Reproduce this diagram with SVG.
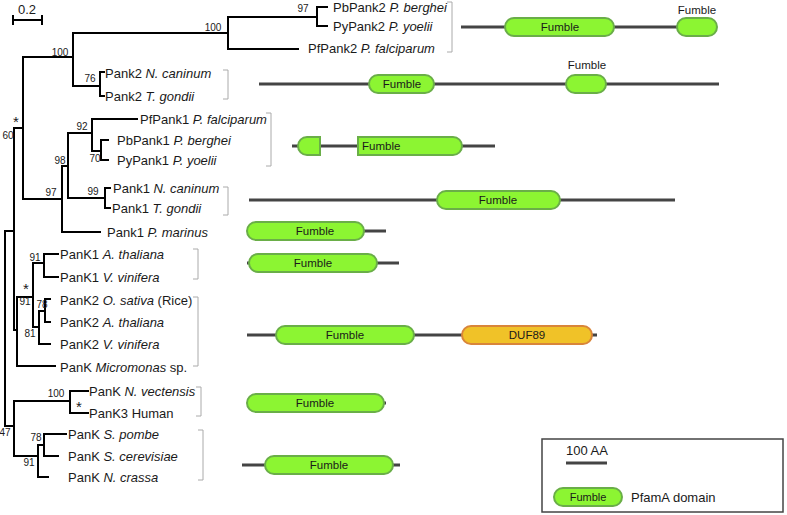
<svg xmlns="http://www.w3.org/2000/svg" width="787" height="515" viewBox="0 0 787 515">
<style>
.t{font-family:"Liberation Sans",Arial,sans-serif;font-size:13px;fill:#1a1a1a}
.i{font-style:italic}
.b{font-family:"Liberation Sans",Arial,sans-serif;font-size:10px;fill:#1a1a1a;text-anchor:middle}
.s{font-family:"Liberation Sans",Arial,sans-serif;font-size:15px;fill:#1a1a1a;text-anchor:middle}
.tree{fill:none;stroke:#000;stroke-width:2;stroke-linecap:square}
.br{fill:none;stroke:#aaa;stroke-width:1}
.ln{stroke:#444;stroke-width:3}
.fum{fill:#8cf532;stroke:#6aae48;stroke-width:2}
.duf{fill:#f0c228;stroke:#d9853a;stroke-width:2}
.d{font-family:"Liberation Sans",Arial,sans-serif;font-size:11.5px;fill:#1a1a1a;text-anchor:middle}
.ds{text-anchor:start}
</style>
<g id="scale">
<path class="tree" d="M13,20H42M13,16V24M42,16V24"/>
<text class="t" x="27" y="14" text-anchor="middle">0.2</text>
</g>
<g id="connectors">
<path class="tree" d="M5,231V426M5,231H14M5,426H14
M14,128V330M14,128H23M14,330H17
M23,57V199M23,57H73M23,199H62
M73,33V86M73,33H228M73,86H100
M228,17V49M228,17H317M228,49H298
M317,7V26M317,7H327M317,26H327
M100,72V96M100,72H104M100,96H104
M62,166V232M62,166H68M62,232H100
M68,133V198M68,133H92M68,198H105
M92,119V151M92,119H137M92,151H101
M101,140V160M101,140H108M101,160H108
M105,188V208M105,188H110M105,208H110
M17,297V366M17,297H33M17,366H55
M33,263V327M33,263H44M33,327H39
M44,254V277M44,254H58M44,277H58
M39,311V344M39,311H45M39,344H50
M45,299V322M45,299H50M45,322H50
M14,401V456M14,401H70M14,456H38
M70,391V413M70,391H88M70,413H88
M38,445V477M38,445H44M38,477H48
M44,434V456M44,434H66M44,456H58"/>
</g>
<g id="bootstrap">
<text class="b" x="213" y="31">100</text>
<text class="b" x="303" y="12">97</text>
<text class="b" x="60" y="56">100</text>
<text class="b" x="90" y="82">76</text>
<text class="s" x="16" y="127">*</text>
<text class="b" x="8" y="139">60</text>
<text class="b" x="82" y="130">92</text>
<text class="b" x="95" y="162">70</text>
<text class="b" x="60" y="164">98</text>
<text class="b" x="51" y="196">97</text>
<text class="b" x="93" y="195">99</text>
<text class="b" x="35" y="261">91</text>
<text class="s" x="26" y="294">*</text>
<text class="b" x="25" y="305">91</text>
<text class="b" x="42" y="308">78</text>
<text class="b" x="30" y="337">81</text>
<text class="b" x="56" y="397">100</text>
<text class="s" x="79" y="412">*</text>
<text class="b" x="5" y="436">47</text>
<text class="b" x="36" y="441">78</text>
<text class="b" x="29" y="466">91</text>
</g>
<g id="labels">
<text class="t" x="333" y="11.5">PbPank2 <tspan class="i">P. berghei</tspan></text>
<text class="t" x="333" y="30.5">PyPank2 <tspan class="i">P. yoelii</tspan></text>
<text class="t" x="308" y="52.5">PfPank2 <tspan class="i">P. falciparum</tspan></text>
<text class="t" x="105" y="77.5">Pank2 <tspan class="i">N. caninum</tspan></text>
<text class="t" x="105" y="100.5">Pank2 <tspan class="i">T. gondii</tspan></text>
<text class="t" x="140" y="123.5">PfPank1 <tspan class="i">P. falciparum</tspan></text>
<text class="t" x="117" y="144.5">PbPank1 <tspan class="i">P. berghei</tspan></text>
<text class="t" x="117" y="164.5">PyPank1 <tspan class="i">P. yoelii</tspan></text>
<text class="t" x="113" y="192.5">Pank1 <tspan class="i">N. caninum</tspan></text>
<text class="t" x="112" y="212.5">Pank1 <tspan class="i">T. gondii</tspan></text>
<text class="t" x="107" y="236.5">Pank1 <tspan class="i">P. marinus</tspan></text>
<text class="t" x="60" y="258.5">PanK1 <tspan class="i">A. thaliana</tspan></text>
<text class="t" x="60" y="281.5">PanK1 <tspan class="i">V. vinifera</tspan></text>
<text class="t" x="60" y="304.5">PanK2 <tspan class="i">O. sativa</tspan> (Rice)</text>
<text class="t" x="60" y="326.5">PanK2 <tspan class="i">A. thaliana</tspan></text>
<text class="t" x="60" y="348.5">PanK2 <tspan class="i">V. vinifera</tspan></text>
<text class="t" x="60" y="371.5">PanK <tspan class="i">Micromonas</tspan> sp.</text>
<text class="t" x="89" y="395.5">PanK <tspan class="i">N. vectensis</tspan></text>
<text class="t" x="89" y="417.5">PanK3 Human</text>
<text class="t" x="68" y="438.5">PanK <tspan class="i">S. pombe</tspan></text>
<text class="t" x="68" y="460.5">PanK <tspan class="i">S. cerevisiae</tspan></text>
<text class="t" x="68" y="481.5">PanK <tspan class="i">N. crassa</tspan></text>
</g>
<g id="brackets">
<path class="br" d="M447,2H452V52H447"/>
<path class="br" d="M223,70H228V99H223"/>
<path class="br" d="M266,113H271V166H266"/>
<path class="br" d="M223,187H228V215H223"/>
<path class="br" d="M193,249H198V279H193"/>
<path class="br" d="M193,297H198V366H193"/>
<path class="br" d="M196,387H201V416H196"/>
<path class="br" d="M198,430H203V480H198"/>
</g>
<g id="arch1">
<line class="ln" x1="461" y1="27" x2="717" y2="27"/>
<rect class="fum" x="505" y="18" width="109" height="18" rx="9"/>
<text class="d" x="560" y="31">Fumble</text>
<rect class="fum" x="677" y="18" width="40" height="18" rx="9"/>
<text class="d" x="697" y="14">Fumble</text>
</g>
<g id="arch2">
<line class="ln" x1="259" y1="84" x2="719" y2="84"/>
<rect class="fum" x="369" y="75" width="65" height="18" rx="9"/>
<text class="d" x="402" y="88">Fumble</text>
<rect class="fum" x="566" y="75" width="40" height="18" rx="9"/>
<text class="d" x="587" y="69">Fumble</text>
</g>
<g id="arch3">
<line class="ln" x1="292" y1="146" x2="495" y2="146"/>
<path class="fum" d="M320,137H307A9,9 0 0 0 307,155H320Z"/>
<path class="fum" d="M358,137H453A9,9 0 0 1 453,155H358Z"/>
<text class="d ds" x="362" y="150">Fumble</text>
</g>
<g id="arch4">
<line class="ln" x1="249" y1="200" x2="675" y2="200"/>
<rect class="fum" x="437" y="191" width="123" height="18" rx="9"/>
<text class="d" x="498" y="204">Fumble</text>
</g>
<g id="arch5">
<line class="ln" x1="250" y1="231" x2="386" y2="231"/>
<rect class="fum" x="247" y="222" width="117" height="18" rx="9"/>
<text class="d" x="315" y="235">Fumble</text>
</g>
<g id="arch6">
<line class="ln" x1="247" y1="263" x2="399" y2="263"/>
<rect class="fum" x="249" y="254" width="128" height="18" rx="9"/>
<text class="d" x="313" y="267">Fumble</text>
</g>
<g id="arch7">
<line class="ln" x1="247" y1="335" x2="597" y2="335"/>
<rect class="fum" x="276" y="326" width="138" height="18" rx="9"/>
<text class="d" x="345" y="339">Fumble</text>
<rect class="duf" x="462" y="326" width="130" height="18" rx="9"/>
<text class="d" x="527" y="339">DUF89</text>
</g>
<g id="arch8">
<line class="ln" x1="250" y1="403" x2="386" y2="403"/>
<rect class="fum" x="247" y="394" width="137" height="18" rx="9"/>
<text class="d" x="315" y="407">Fumble</text>
</g>
<g id="arch9">
<line class="ln" x1="242" y1="465" x2="400" y2="465"/>
<rect class="fum" x="265" y="456" width="128" height="18" rx="9"/>
<text class="d" x="329" y="469">Fumble</text>
</g>
<g id="legend">
<rect x="542" y="439" width="241" height="73" fill="none" stroke="#444" stroke-width="1.5"/>
<text class="t" x="566" y="455">100 AA</text>
<line class="ln" x1="566" y1="463" x2="607" y2="463"/>
<rect class="fum" x="554" y="488" width="68" height="18" rx="9"/>
<text class="d" x="588" y="501" style="font-size:11px">Fumble</text>
<text class="t" x="631" y="502">PfamA domain</text>
</g>
</svg>
